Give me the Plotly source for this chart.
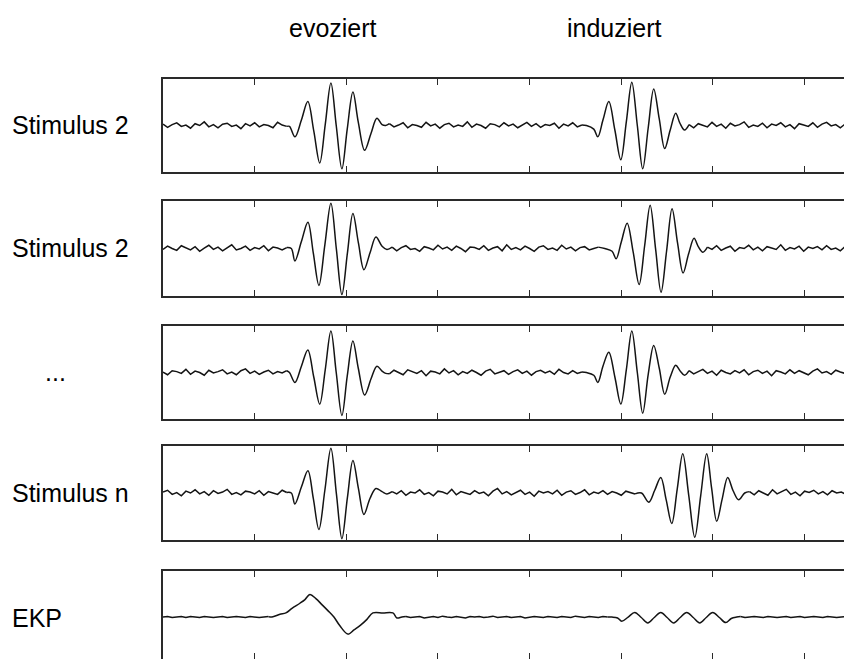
import plotly.graph_objects as go

# ---------------------------------------------------------------------------
# Data: single-trial traces (arbitrary amplitude units, time in tick units)
# ---------------------------------------------------------------------------
ROW_LABELS = ["Stimulus 2", "Stimulus 2", "...", "Stimulus n", "EKP"]
COLUMN_TITLES = ["evoziert", "induziert"]
TICK_POSITIONS = [1, 2, 3, 4, 5, 6, 7]
SAMPLE_STEP = 0.05  # spacing of the baseline samples

# --- trial 1 ---
t1_pre = [0.03, -0.04, 0.02, 0.06, -0.02, 0.01, -0.06, 0.04, 0.0, 0.08, -0.03,
          0.02, -0.05, 0.03, 0.05, -0.02, 0.01, -0.07, 0.04, -0.01, 0.06, -0.03,
          0.02, 0.0, -0.05, 0.07, 0.01, -0.02]
t1_evoked_t = [1.38, 1.44, 1.51, 1.58, 1.645, 1.71, 1.77, 1.832, 1.89, 1.952,
               2.01, 2.072, 2.13, 2.20, 2.27, 2.334, 2.39, 2.43]
t1_evoked_v = [-0.02, -0.25, 0.12, 0.53, -0.12, -0.83, 0.02, 0.94, 0.0, -0.96,
               -0.08, 0.74, 0.08, -0.55, -0.17, 0.16, 0.02, 0.0]
t1_mid = [0.04, -0.03, 0.01, 0.06, -0.05, 0.02, 0.0, -0.04, 0.07, -0.01, 0.03,
          -0.06, 0.02, 0.05, -0.03, 0.01, -0.02, 0.08, -0.04, 0.03, 0.0, -0.06,
          0.04, 0.02, -0.03, 0.06, -0.01, 0.03, -0.05, 0.01, 0.07, -0.02, 0.04,
          -0.04, 0.02, 0.0, 0.05, -0.06, 0.03, -0.01, 0.06, -0.03, 0.01]
t1_induced_t = [4.62, 4.70, 4.744, 4.80, 4.864, 4.93, 4.995, 5.055, 5.115, 5.175,
                5.234, 5.294, 5.354, 5.414, 5.474, 5.534, 5.594, 5.64, 5.69]
t1_induced_v = [0.0, -0.08, -0.25, 0.12, 0.53, -0.1, -0.76, 0.08, 0.96, 0.0,
                -0.96, -0.05, 0.81, 0.15, -0.51, -0.1, 0.27, 0.05, -0.1]
t1_post = [0.02, -0.05, 0.04, 0.0, -0.03, 0.07, -0.02, 0.03, -0.06, 0.05, -0.01,
           0.02, 0.08, -0.04, 0.01, -0.02, 0.05, -0.05, 0.03, 0.0, 0.06, -0.03,
           0.02, -0.07, 0.04, 0.01, -0.02, 0.06, -0.04, 0.03, 0.07, -0.01, 0.02,
           -0.05, 0.03]

# --- trial 2 ---
t2_pre = [-0.02, 0.05, 0.0, -0.04, 0.06, 0.02, -0.03, 0.04, -0.06, 0.01, 0.07,
          -0.02, 0.03, -0.05, 0.02, 0.08, -0.03, 0.0, 0.05, -0.04, 0.02, -0.01,
          0.06, -0.05, 0.03, 0.01, -0.03, 0.02]
t2_evoked_t = [1.40, 1.439, 1.51, 1.581, 1.64, 1.701, 1.766, 1.832, 1.892, 1.952,
               2.012, 2.072, 2.132, 2.192, 2.258, 2.323, 2.39, 2.443]
t2_evoked_v = [0.0, -0.27, 0.15, 0.57, -0.1, -0.80, 0.08, 0.98, -0.02, -1.0,
               -0.1, 0.76, 0.12, -0.46, -0.1, 0.25, 0.05, -0.02]
t2_mid = [0.03, -0.05, 0.02, 0.06, -0.02, 0.0, -0.06, 0.04, 0.01, -0.03, 0.07,
          -0.01, 0.03, -0.04, 0.05, 0.0, -0.07, 0.03, 0.02, -0.02, 0.06, -0.04,
          0.01, 0.04, -0.05, 0.08, -0.02, 0.02, -0.03, 0.05, 0.0, -0.06, 0.03,
          0.06, -0.02, 0.01, -0.04, 0.07, -0.01, 0.03, -0.05, 0.02, 0.04, -0.03,
          0.0, 0.03]
t2_induced_t = [4.82, 4.90, 4.944, 5.00, 5.064, 5.13, 5.195, 5.255, 5.315, 5.375,
                5.434, 5.494, 5.554, 5.614, 5.674, 5.734, 5.794, 5.84, 5.89]
t2_induced_v = [0.0, -0.06, -0.22, 0.14, 0.55, -0.08, -0.78, 0.06, 0.94, -0.02,
                -0.95, -0.06, 0.86, 0.12, -0.53, -0.12, 0.22, 0.04, -0.08]
t2_post = [0.03, -0.02, 0.06, -0.04, 0.01, 0.05, -0.06, 0.02, 0.0, 0.07, -0.03,
           0.03, -0.05, 0.04, 0.01, -0.02, 0.08, -0.04, 0.02, -0.01, 0.05, -0.06,
           0.03, 0.0, 0.04, -0.03, 0.06, -0.02, 0.01, -0.05, 0.04]

# --- trial 3 ---
t3_pre = [0.01, -0.05, 0.04, 0.02, -0.02, 0.07, -0.04, 0.03, 0.0, -0.06, 0.05,
          -0.01, 0.02, 0.06, -0.03, 0.01, -0.05, 0.04, 0.08, -0.02, 0.03, -0.04,
          0.01, 0.05, -0.03, 0.02, -0.01, 0.04]
t3_evoked_t = [1.38, 1.44, 1.51, 1.58, 1.645, 1.71, 1.77, 1.832, 1.89, 1.952,
               2.01, 2.072, 2.13, 2.20, 2.27, 2.334, 2.39, 2.43]
t3_evoked_v = [0.0, -0.22, 0.14, 0.50, -0.1, -0.70, 0.06, 0.92, 0.0, -0.95,
               -0.08, 0.70, 0.1, -0.50, -0.14, 0.14, 0.03, -0.02]
t3_mid = [-0.03, 0.05, 0.0, -0.05, 0.06, 0.02, -0.02, 0.04, -0.07, 0.03, 0.01,
          -0.03, 0.08, -0.01, 0.04, -0.05, 0.02, -0.02, 0.05, 0.0, -0.06, 0.03,
          0.07, -0.03, 0.01, 0.04, -0.04, 0.02, 0.06, -0.02, 0.03, -0.06, 0.02,
          0.05, -0.01, 0.03, -0.04, 0.07, 0.0, -0.03, 0.04, -0.02, 0.01]
t3_induced_t = [4.62, 4.70, 4.744, 4.80, 4.864, 4.93, 4.995, 5.055, 5.115, 5.175,
                5.234, 5.294, 5.354, 5.414, 5.474, 5.534, 5.594, 5.64, 5.69]
t3_induced_v = [0.0, -0.06, -0.22, 0.14, 0.45, -0.1, -0.70, 0.06, 0.92, 0.0,
                -0.90, -0.04, 0.60, 0.1, -0.48, -0.1, 0.16, 0.04, -0.06]
t3_post = [0.04, -0.03, 0.02, 0.07, -0.02, 0.03, -0.06, 0.05, 0.0, -0.03, 0.04,
           -0.01, 0.06, -0.05, 0.02, 0.05, -0.02, 0.03, -0.07, 0.04, 0.01, -0.03,
           0.06, -0.02, 0.04, 0.0, -0.05, 0.03, 0.08, -0.01, 0.02, -0.04, 0.05,
           0.01, -0.02]

# --- trial n ---
t4_pre = [0.02, 0.06, -0.03, 0.01, -0.06, 0.04, 0.0, 0.07, -0.02, 0.03, -0.05,
          0.05, -0.01, 0.02, 0.08, -0.03, 0.01, -0.04, 0.04, 0.02, -0.02, 0.05,
          -0.05, 0.03, 0.0, -0.03, 0.06, 0.01]
t4_evoked_t = [1.40, 1.439, 1.51, 1.581, 1.64, 1.701, 1.766, 1.832, 1.892, 1.952,
               2.012, 2.072, 2.132, 2.192, 2.258, 2.323, 2.39, 2.443]
t4_evoked_v = [0.0, -0.24, 0.13, 0.49, -0.12, -0.80, 0.06, 0.98, -0.02, -1.0,
               -0.1, 0.71, 0.1, -0.47, -0.12, 0.10, 0.03, -0.02]
t4_mid = [0.03, -0.02, 0.05, -0.05, 0.02, 0.0, 0.07, -0.03, 0.01, -0.06, 0.04,
          0.02, -0.02, 0.08, -0.04, 0.03, 0.0, -0.03, 0.05, -0.01, 0.02, -0.06,
          0.04, 0.1, -0.02, 0.03, -0.04, 0.01, 0.06, -0.03, 0.02, -0.07, 0.04,
          0.0, 0.03, -0.02, 0.06, -0.05, 0.02, 0.05, -0.03, 0.01, 0.07, -0.04,
          0.02, -0.01, 0.05, -0.03, 0.03, 0.0, -0.05, 0.04, 0.01, -0.02]
t4_induced_t = [5.22, 5.300, 5.365, 5.431, 5.49, 5.551, 5.61, 5.671, 5.736, 5.802,
                5.867, 5.932, 5.986, 6.041, 6.10, 6.161, 6.22, 6.281, 6.347]
t4_induced_v = [0.0, -0.2, 0.06, 0.34, -0.15, -0.67, 0.08, 0.86, -0.05, -0.97,
                -0.05, 0.86, 0.1, -0.62, -0.14, 0.34, 0.05, -0.15, 0.0]
t4_post = [0.03, -0.04, 0.05, 0.0, -0.05, 0.07, -0.02, 0.03, 0.08, -0.03, 0.02,
           -0.06, 0.04, 0.01, 0.06, -0.02, 0.03, -0.04, 0.05, 0.0, 0.02, -0.03]

# --- average (EKP) ---
ekp_pre = [0.0, 0.01, -0.01, 0.0, 0.01, -0.01, 0.01, 0.0, -0.01, 0.01, 0.0,
           -0.01, 0.0, 0.01, -0.01, 0.0, 0.01, 0.0, -0.01, 0.01, 0.0, -0.01,
           0.0, 0.01]
ekp_evoked_t = [1.189, 1.276, 1.341, 1.407, 1.494, 1.549, 1.603, 1.668, 1.734,
                1.799, 1.865, 1.930, 2.017, 2.083, 2.159, 2.225, 2.290, 2.399,
                2.508, 2.552, 2.606]
ekp_evoked_v = [0.0, 0.06, 0.09, 0.19, 0.30, 0.38, 0.49, 0.40, 0.27, 0.14, 0.0,
                -0.19, -0.37, -0.28, -0.17, -0.05, 0.09, 0.09, 0.09, -0.02, 0.0]
ekp_mid = [0.01, -0.01, 0.0, 0.01, -0.02, 0.0, 0.01, -0.01, 0.02, 0.0, -0.01,
           0.01, 0.0, -0.02, 0.01, 0.0, 0.01, -0.01, 0.0, 0.02, -0.01, 0.0,
           0.01, -0.01, 0.0, 0.01, -0.02, 0.0, 0.01, 0.0, -0.01, 0.01, 0.0,
           -0.01, 0.01, 0.0, -0.01, 0.02, 0.0, -0.01, 0.01, 0.0, -0.01, 0.01, 0.0]
ekp_induced_t = [4.90, 4.96, 5.005, 5.075, 5.147, 5.218, 5.289, 5.36, 5.431,
                 5.50, 5.572, 5.643, 5.714, 5.785, 5.856, 5.927, 5.998, 6.07,
                 6.140, 6.20, 6.26]
ekp_induced_v = [0.0, -0.02, -0.09, 0.0, 0.10, -0.01, -0.13, -0.01, 0.10, -0.01,
                 -0.13, -0.01, 0.10, -0.01, -0.13, -0.01, 0.10, -0.01, -0.12,
                 -0.03, 0.0]
ekp_post = [0.01, -0.01, 0.0, 0.01, 0.0, -0.01, 0.01, 0.0, -0.01, 0.0, 0.01,
            -0.01, 0.0, 0.01, -0.01, 0.0, 0.01, 0.0, -0.01, 0.01, 0.0, -0.01,
            0.0, 0.01]

TRIALS = [
    (t1_pre, t1_evoked_t, t1_evoked_v, 2.47, t1_mid, t1_induced_t, t1_induced_v, 5.74, t1_post),
    (t2_pre, t2_evoked_t, t2_evoked_v, 2.50, t2_mid, t2_induced_t, t2_induced_v, 5.94, t2_post),
    (t3_pre, t3_evoked_t, t3_evoked_v, 2.47, t3_mid, t3_induced_t, t3_induced_v, 5.74, t3_post),
    (t4_pre, t4_evoked_t, t4_evoked_v, 2.50, t4_mid, t4_induced_t, t4_induced_v, 6.40, t4_post),
    (ekp_pre, ekp_evoked_t, ekp_evoked_v, 2.65, ekp_mid, ekp_induced_t, ekp_induced_v, 6.30, ekp_post),
]


def segments(pre, ev_t, ev_v, mid_start, mid, in_t, in_v, post_start, post):
    """Split a trial into baseline pieces (jagged) and response pieces (smooth).

    Each response piece borrows the neighbouring baseline samples so that the
    drawn line stays continuous.
    """
    pre_t = [i * SAMPLE_STEP for i in range(len(pre))]
    mid_t = [mid_start + i * SAMPLE_STEP for i in range(len(mid))]
    post_t = [post_start + i * SAMPLE_STEP for i in range(len(post))]
    return [
        ("linear", pre_t, list(pre)),
        ("spline", [pre_t[-1]] + ev_t + [mid_t[0]], [pre[-1]] + ev_v + [mid[0]]),
        ("linear", mid_t, list(mid)),
        ("spline", [mid_t[-1]] + in_t + [post_t[0]], [mid[-1]] + in_v + [post[0]]),
        ("linear", post_t, list(post)),
    ]


# ---------------------------------------------------------------------------
# Layout geometry (paper coordinates)
# ---------------------------------------------------------------------------
W, H = 844, 659
X_LEFT = 163 / W
PANEL_DOMAINS = [
    [1 - 172 / H, 1 - 79 / H],
    [1 - 296 / H, 1 - 201 / H],
    [1 - 419 / H, 1 - 326 / H],
    [1 - 540 / H, 1 - 446 / H],
    [0.0, 1 - 571 / H],
]
Y_RANGES = [[-1.03, 1.03]] * 4 + [[-0.91, 1.0]]
X_RANGE = [0, 7.43]
FRAME = "#2a2a2a"
TRACE = "#141414"
FONT = "Liberation Sans, Arial, sans-serif"

fig = go.Figure()
for i, trial in enumerate(TRIALS):
    for shape, t, v in segments(*trial):
        line = dict(color=TRACE, width=1.5, shape=shape)
        if shape == "spline":
            line["smoothing"] = 1.0
        fig.add_trace(go.Scatter(
            x=t, y=v, mode="lines", line=line,
            xaxis=f"x{i + 1}", yaxis=f"y{i + 1}", showlegend=False,
            hoverinfo="skip",
        ))

    ax = dict(
        domain=[X_LEFT, 1.0], range=X_RANGE, tickvals=TICK_POSITIONS,
        ticks="inside", ticklen=6, tickwidth=1.3, tickcolor=FRAME,
        showline=True, linecolor=FRAME, linewidth=1.6, mirror="ticks",
        showgrid=False, zeroline=False, showticklabels=False, fixedrange=True,
        anchor=f"y{i + 1}",
    )
    ay = dict(
        domain=PANEL_DOMAINS[i], range=Y_RANGES[i], anchor=f"x{i + 1}",
        showline=True, linecolor=FRAME, linewidth=1.6, mirror=False,
        ticks="", showgrid=False, zeroline=False, showticklabels=False,
        fixedrange=True,
    )
    fig.layout[f"xaxis{i + 1 if i else ''}"] = ax
    fig.layout[f"yaxis{i + 1 if i else ''}"] = ay

annotations = []
# column headings
for title, px in zip(COLUMN_TITLES, [333, 614]):
    annotations.append(dict(
        text=title, x=px / W, y=1 - 28 / H, xref="paper", yref="paper",
        xanchor="center", yanchor="middle", showarrow=False,
        font=dict(family=FONT, size=25, color="#000000"),
    ))
# row labels
row_label_pos = [(10, 125, "left"), (10, 248, "left"), (55, 372, "center"),
                 (10, 493, "left"), (10, 618, "left")]
for label, (px, py, anchor) in zip(ROW_LABELS, row_label_pos):
    annotations.append(dict(
        text=label, x=px / W, y=1 - py / H, xref="paper", yref="paper",
        xanchor=anchor, yanchor="middle", showarrow=False,
        font=dict(family=FONT, size=25, color="#000000"),
    ))

fig.update_layout(
    width=W, height=H,
    margin=dict(l=0, r=0, t=0, b=0),
    paper_bgcolor="white", plot_bgcolor="white",
    annotations=annotations,
)

fig.write_html("out.html", config={"displayModeBar": False})
